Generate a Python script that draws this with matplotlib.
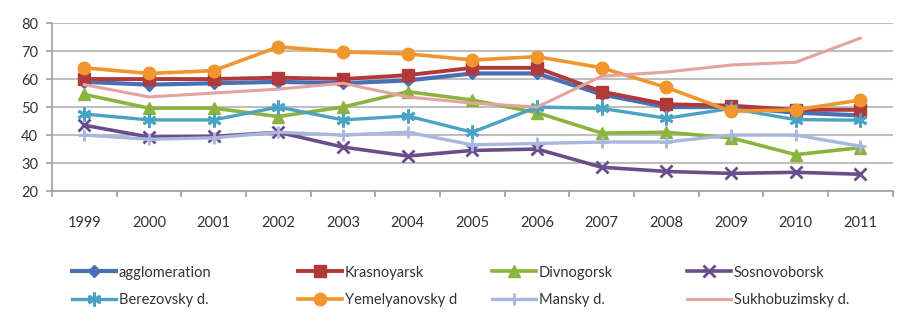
import matplotlib.pyplot as plt
from matplotlib.ticker import MultipleLocator

plt.rcParams['font.family'] = ['Lato', 'DejaVu Sans']

years = ['1999', '2000', '2001', '2002', '2003', '2004', '2005',
         '2006', '2007', '2008', '2009', '2010', '2011']

agglomeration = [59, 58, 58.5, 59, 58.5, 59.5, 62, 62, 54.5, 50, 50, 48, 47]
krasnoyarsk = [60, 60, 60, 60.5, 60, 61.4, 64, 64, 55.5, 51, 50.5, 49, 49]
divnogorsk = [54.5, 49.6, 49.6, 46.6, 50, 55.5, 52.5, 48, 40.7, 41, 39, 33, 35.5]
sosnovoborsk = [43.5, 39.3, 39.5, 41, 35.7, 32.5, 34.5, 35, 28.5, 27, 26.3, 26.7, 26]
berezovsky = [47.5, 45.4, 45.4, 50, 45.4, 46.8, 41, 50, 49.5, 46, 49.5, 45.5, 45.3]
yemelyanovsky = [64, 62, 63, 71.5, 69.7, 69, 66.8, 68, 64, 57, 48.5, 49, 52.5]
mansky = [40, 38.5, 39, 41, 40, 41, 36.5, 37, 37.5, 37.5, 40, 40, 36]
sukhobuzimsky = [58, 53.6, 55, 56.4, 58.5, 53.6, 51.4, 50, 61, 62.5, 65, 66, 74.6]

series = [
    ('agglomeration', agglomeration, '#4A6FB5', 'D', 6, 3.0),
    ('Krasnoyarsk', krasnoyarsk, '#B03A3A', 's', 8, 2.8),
    ('Divnogorsk', divnogorsk, '#8DB33F', '^', 8, 2.6),
    ('Sosnovoborsk', sosnovoborsk, '#6A4E8C', 'x', 8, 2.6),
    ('Berezovsky d.', berezovsky, '#4BA3C3', (6, 2, 0), 10, 2.4),
    ('Yemelyanovsky d', yemelyanovsky, '#F0962F', 'o', 9, 2.6),
    ('Mansky d.', mansky, '#A9B6DE', '+', 9, 2.4),
    ('Sukhobuzimsky d.', sukhobuzimsky, '#E3A3A0', None, 0, 2.2),
]

fig = plt.figure(figsize=(9.03, 3.2), dpi=100)
ax = fig.add_axes([0.0576, 0.403, 0.931, 0.525])

x = list(range(len(years)))
handles = []
for name, vals, col, mk, ms, lw in series:
    h, = ax.plot(x, vals, color=col, marker=mk, markersize=ms, linewidth=lw,
                 markeredgewidth=2 if mk in ('x', '+', (6, 2, 0)) else 1,
                 label=name, solid_joinstyle='round')
    handles.append(h)

ax.set_xlim(-0.5, len(years) - 0.5)
ax.set_ylim(20, 80)
ax.yaxis.set_major_locator(MultipleLocator(10))
ax.set_xticks(x)
ax.set_xticklabels(years)
ax.set_xticks([i + 0.5 for i in range(-1, len(years))], minor=True)
ax.tick_params(axis='x', which='major', length=0, pad=18, labelsize=10.5, colors='#333333')
ax.tick_params(axis='x', which='minor', length=4, color='#A0A0A0', width=1.2)
ax.tick_params(axis='y', length=4, color='#A0A0A0', width=1.2, labelsize=10.5,
               labelcolor='#333333', pad=6)
ax.grid(axis='y', color='#BFBFBF', linewidth=1.5)
ax.set_axisbelow(True)
for s in ('top', 'right'):
    ax.spines[s].set_visible(False)
for s in ('left', 'bottom'):
    ax.spines[s].set_color('#A0A0A0')
    ax.spines[s].set_linewidth(1.2)

# legend laid out as 4 columns of 2 rows
col_x = [0.080, 0.330, 0.545, 0.761]
for i, cx in enumerate(col_x):
    fig.legend(handles=[handles[i], handles[i + 4]], loc='upper left',
               bbox_to_anchor=(cx, 0.17), frameon=False, fontsize=10.5,
               handlelength=3.0, handletextpad=0.2, labelspacing=0.95,
               borderaxespad=0, borderpad=0, labelcolor='#333333')

fig.savefig('out.png', dpi=100, facecolor='white')
